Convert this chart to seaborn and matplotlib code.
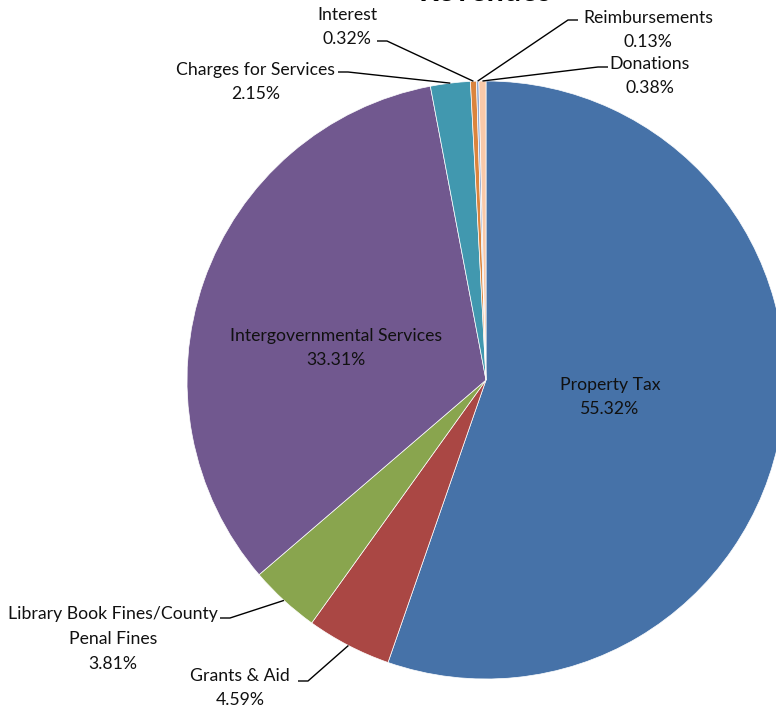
import numpy as np
import matplotlib
matplotlib.use("Agg")
import matplotlib.pyplot as plt
import seaborn as sns

# Revenue breakdown, clockwise from 12 o'clock
categories = [
    "Property Tax",
    "Grants & Aid",
    "Library Book Fines/County\nPenal Fines",
    "Intergovernmental Services",
    "Charges for Services",
    "Interest",
    "Reimbursements",
    "Donations",
]
shares = [55.32, 4.59, 3.81, 33.31, 2.15, 0.32, 0.13, 0.38]
colors = ["#4672A8", "#AA4744", "#89A54E", "#71588F", "#4198AF",
          "#DB843D", "#93A9CF", "#F9C9A9"]

sns.set_theme(style="white")
plt.rcParams["font.family"] = ["Lato", "DejaVu Sans"]

W, H = 776, 711
fig = plt.figure(figsize=(W / 100, H / 100), dpi=100)
ax = fig.add_axes([0, 0, 1, 1])

cx, cy, R = 486, H - 380, 299
wedges, _ = ax.pie(shares, colors=colors, startangle=90, counterclock=False,
                   center=(cx, cy), radius=R, frame=True,
                   wedgeprops=dict(linewidth=0.5, edgecolor="white"))
ax.set_xlim(0, W)
ax.set_ylim(0, H)
ax.set_aspect("equal")
ax.axis("off")

fs = 12.7
ls = 1.68
total = sum(shares)
cum = np.cumsum([0] + shares[:-1])

def edge_point(i, frac=1.0):
    mid = (cum[i] + shares[i] / 2) / total * 360.0
    a = np.deg2rad(mid)
    return cx + R * frac * np.sin(a), cy + R * frac * np.cos(a)

def label_text(i):
    return f"{categories[i]}\n{shares[i]:.2f}%"

# Labels inside the two large slices
ax.text(610, H - 397, label_text(0), ha="center", va="center", fontsize=fs,
        color="#111111", linespacing=ls)
ax.text(336, H - 348, label_text(3), ha="center", va="center", fontsize=fs,
        color="#111111", linespacing=ls)

# Outside labels: (text centre, leader start, elbow)
outside = {
    1: ((240, 688), (298, 681), (308, 681)),
    2: ((113, 639), (220, 618), (230, 618)),
    4: ((256, 82), (338, 72), (348, 72)),
    5: ((347, 27), (377, 41), (387, 41)),
    6: ((648, 30), (578, 20), (568, 20)),
    7: ((650, 76), (608, 67), (598, 67)),
}
for i, ((tx, ty), (sx, sy), (ex, ey)) in outside.items():
    ax.text(tx, H - ty, label_text(i), ha="center", va="center", fontsize=fs,
            color="#111111", linespacing=ls)
    px, py = edge_point(i, 1.0)
    ax.plot([sx, ex, px], [H - sy, H - ey, py], color="black", lw=1.0,
            solid_capstyle="butt")

ax.text(485, H - 1, "Revenues", ha="center", va="baseline", fontsize=22,
        fontweight="bold", color="black")

fig.savefig("out.png", dpi=100, facecolor="white")
